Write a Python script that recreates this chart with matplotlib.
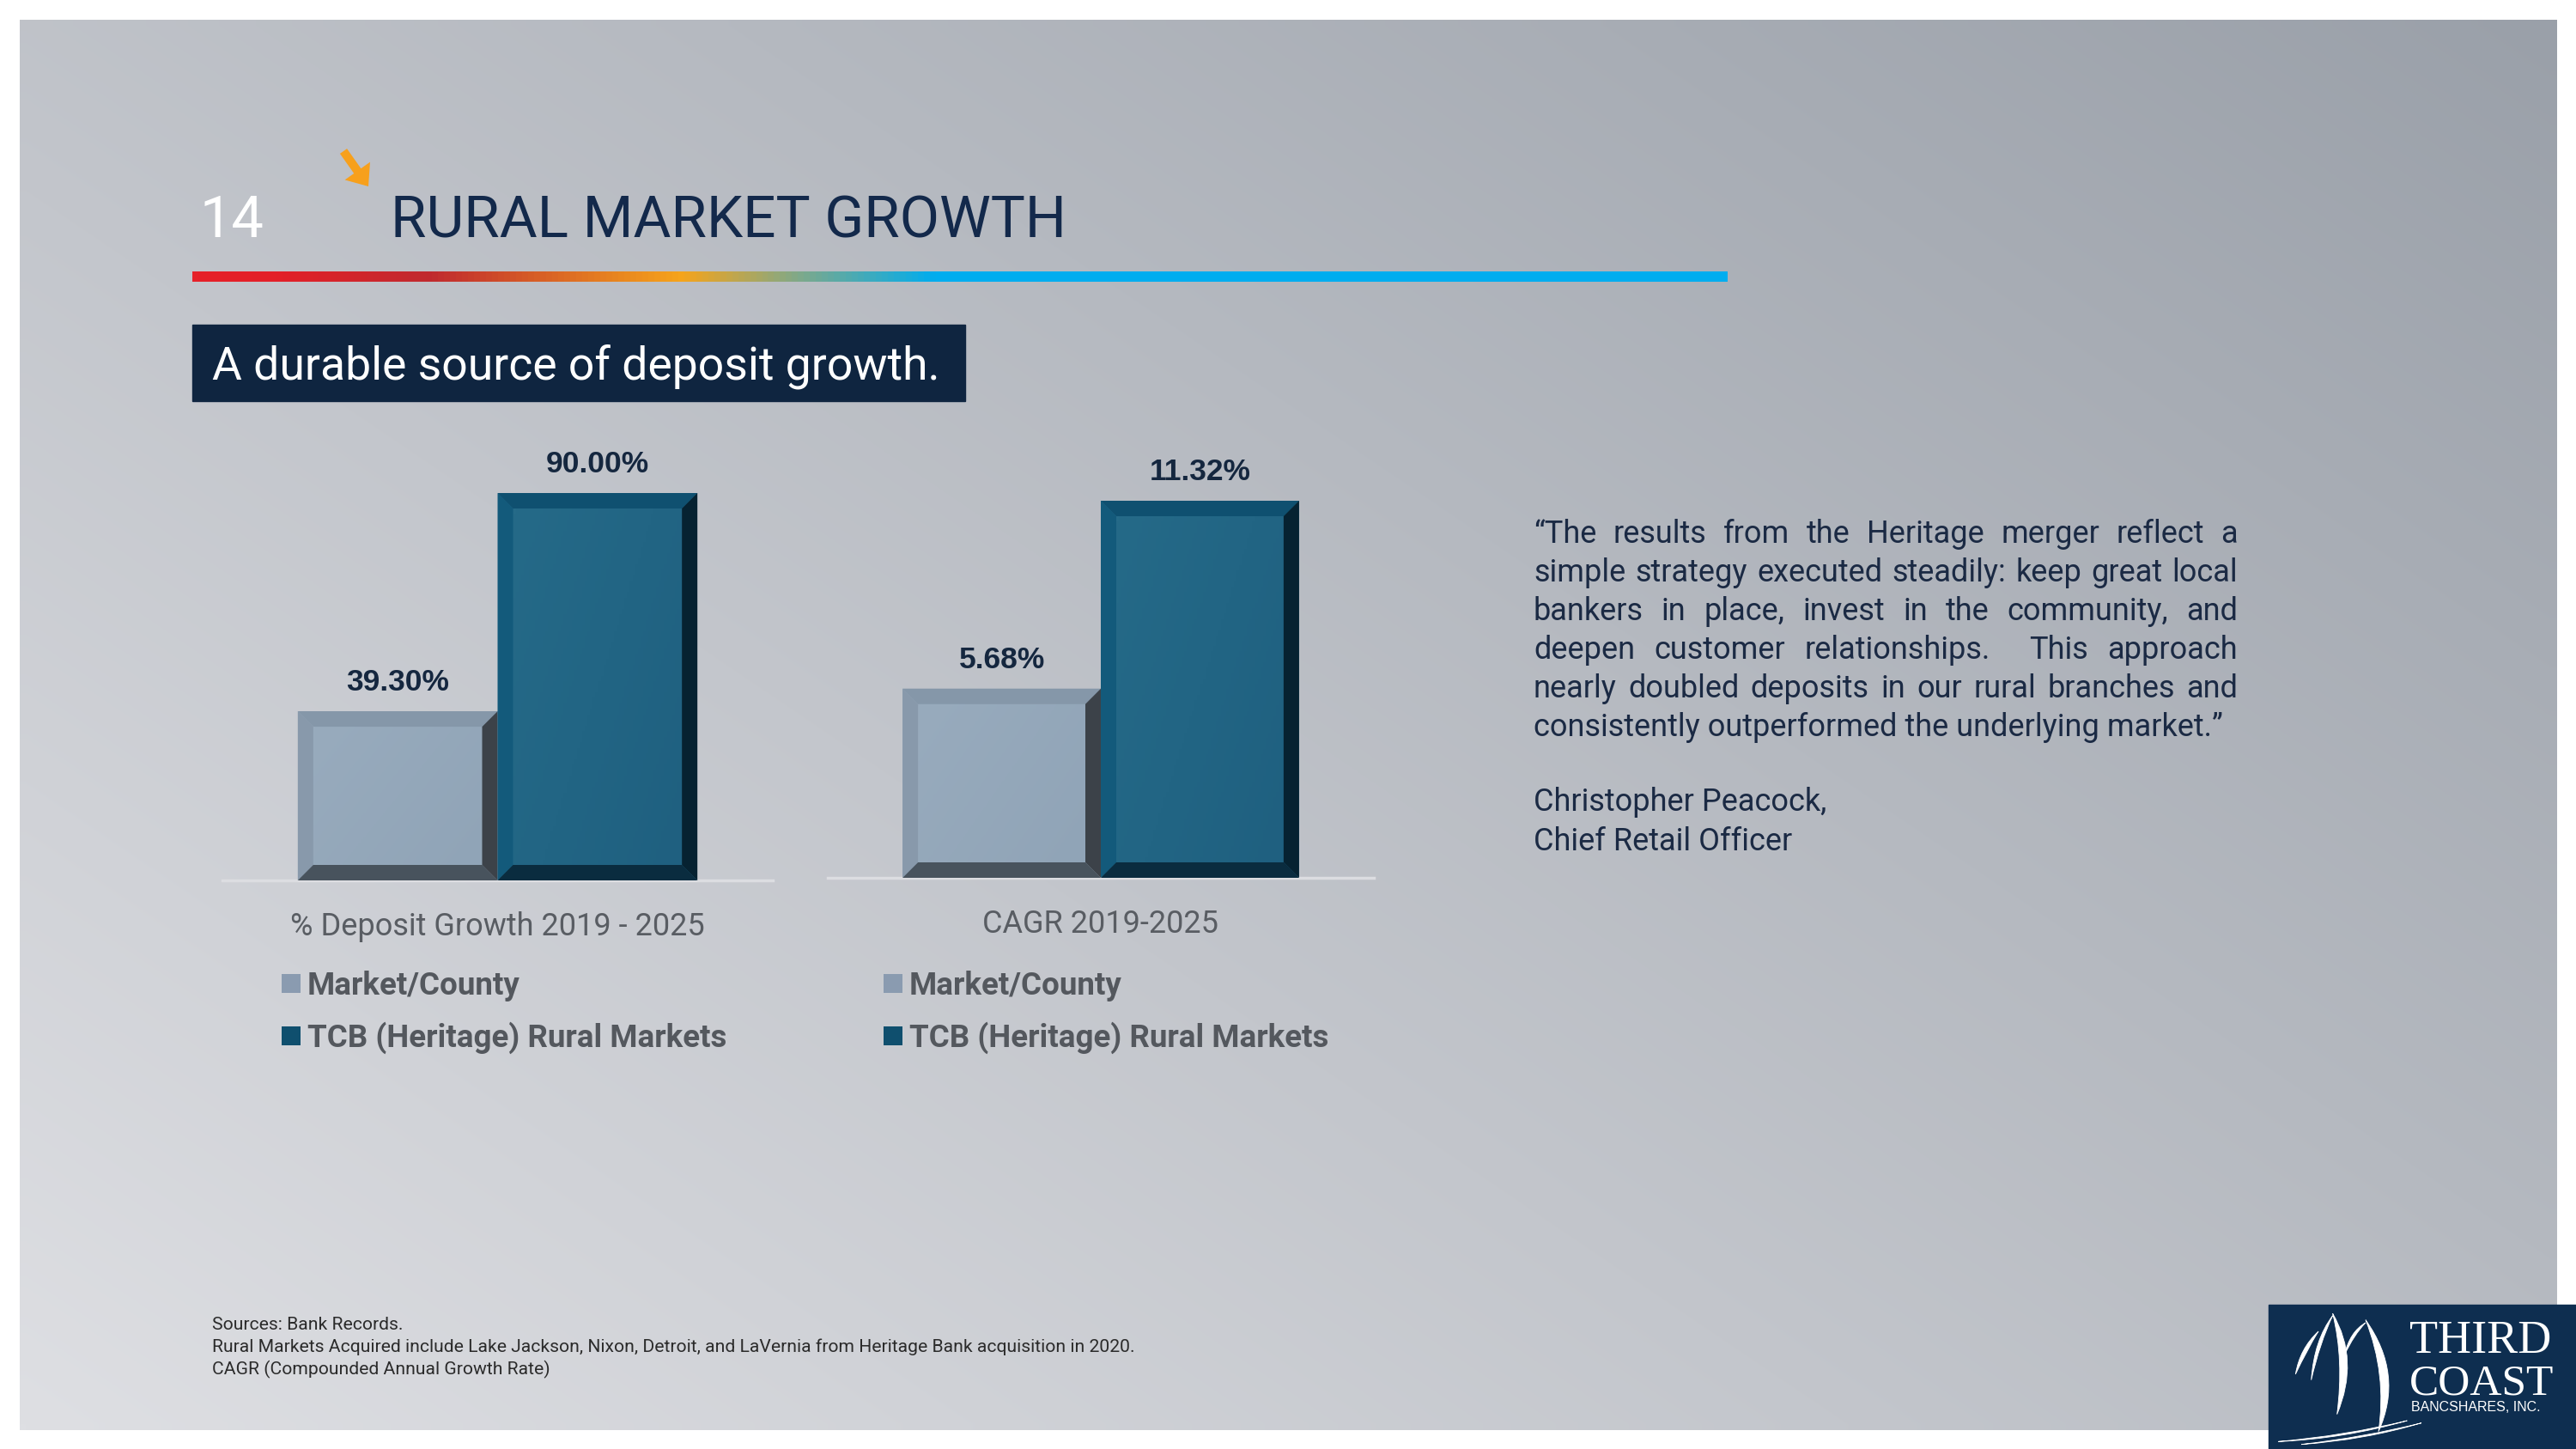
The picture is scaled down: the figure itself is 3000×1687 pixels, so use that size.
import numpy as np
import matplotlib.pyplot as plt
from matplotlib.colors import LinearSegmentedColormap, to_rgb
from matplotlib.patches import Rectangle, Polygon, FancyArrow, PathPatch
from matplotlib.path import Path
from matplotlib.lines import Line2D

W, H, DPI = 3000, 1687, 100

# chart data
groups = ['% Deposit Growth 2019 - 2025', 'CAGR 2019-2025']
series = ['Market/County', 'TCB (Heritage) Rural Markets']
market_vals = [39.30, 5.68]
tcb_vals = [90.00, 11.32]
y_max = [100, 13]

quote_lines = [
    '\u201cThe results from the Heritage merger reflect a',
    'simple strategy executed steadily: keep great local',
    'bankers in place, invest in the community, and',
    'deepen customer relationships.  This approach',
    'nearly doubled deposits in our rural branches and',
    'consistently outperformed the underlying market.\u201d',
]
signature = ['Christopher Peacock,', 'Chief Retail Officer']
footnotes = [
    'Sources: Bank Records.',
    'Rural Markets Acquired include Lake Jackson, Nixon, Detroit, and LaVernia from Heritage Bank acquisition in 2020.',
    'CAGR (Compounded Annual Growth Rate)',
]

BODY = 'Roboto'
NAVY = '#13294b'
plt.rcParams['font.family'] = [BODY, 'DejaVu Sans']

fig = plt.figure(figsize=(W / DPI, H / DPI), dpi=DPI)
fig.patch.set_facecolor('white')
bg = fig.add_axes([0, 0, 1, 1])
bg.axis('off')

# slide background gradient
c_light = np.array(to_rgb('#dedfe3'))
c_dark = np.array(to_rgb('#9aa0a9'))
xx, yy = np.meshgrid(np.linspace(0, 1, 200), np.linspace(0, 1, 120))
t = np.clip(0.55 * xx + 0.45 * (1 - yy), 0, 1)
img = c_light + (c_dark - c_light) * t[..., None]
bg.imshow(img, extent=(23, 2978, 1665, 23), aspect='auto', interpolation='bilinear', zorder=0)

# coloured rule under the title
stops = [(0, '#e62129'), (0.053, '#e32028'), (0.154, '#c02a2f'), (0.317, '#f6a41b'),
         (0.395, '#7fa98a'), (0.484, '#00adef'), (1, '#00adef')]
rule = LinearSegmentedColormap.from_list('rule', stops)
bg.imshow(np.linspace(0, 1, 512)[None, :], cmap=rule, extent=(224, 2012, 328, 316),
          aspect='auto', zorder=1)
bg.set_xlim(0, W)
bg.set_ylim(H, 0)

# title
bg.text(233, 276, '14', color='white', fontsize=48, va='baseline')
bg.text(455, 276, 'RURAL MARKET GROWTH', color=NAVY, fontsize=48.5, va='baseline')
bg.add_patch(FancyArrow(400, 176, 29, 41, width=10, head_width=36, head_length=22,
                        length_includes_head=True, color='#f7a01c', lw=0, zorder=2))

# subtitle box
bg.add_patch(Rectangle((224, 378), 900, 89, color='#0f2540', zorder=2))
bg.text(247, 441, 'A durable source of deposit growth.', color='white', fontsize=38.5,
        va='baseline', zorder=3)

# charts
light = dict(face='#98abbd', face2='#90a4b7', top='#8597a9', left='#8899ab',
             bottom='#48535d', right='#3c4249', legend='#8a9bb0')
dark = dict(face='#256a88', face2='#1f6080', top='#0f5070', left='#135a7b',
            bottom='#0a2c3f', right='#062231', legend='#0f4f6e')
styles = [light, dark]

ax_boxes = [(259, 900, 1025), (964, 1600, 1022)]
ppu = [451 / 90.0, 439 / 11.32]  # pixels per data unit
bevel = 18
xs = [0.5 - 0.1815, 0.5 + 0.1815]
bw = 0.363

for i, (l, r, b) in enumerate(ax_boxes):
    h_px = ppu[i] * y_max[i]
    ax = fig.add_axes([l / W, 1 - b / H, (r - l) / W, h_px / H])
    ax.patch.set_alpha(0)
    vals = [market_vals[i], tcb_vals[i]]
    bx = bevel / (r - l)
    by = bevel / ppu[i]
    for j, v in enumerate(vals):
        st = styles[j]
        cont = ax.bar(xs[j], v, width=bw, color=st['face'], zorder=2)
        p = cont.patches[0]
        x0, x1, h = p.get_x(), p.get_x() + p.get_width(), p.get_height()
        g = np.linspace(0, 1, 64)[None, :] * 0.6 + np.linspace(0, 1, 64)[:, None] * 0.4
        cm = LinearSegmentedColormap.from_list('f%d' % j, [st['face'], st['face2']])
        ax.imshow(g, cmap=cm, extent=(x0 + bx, x1 - bx, by, h - by), aspect='auto',
                  zorder=2.5)
        polys = [
            ([(x0, h), (x1, h), (x1 - bx, h - by), (x0 + bx, h - by)], st['top']),
            ([(x0, h), (x0 + bx, h - by), (x0 + bx, by), (x0, 0)], st['left']),
            ([(x0, 0), (x0 + bx, by), (x1 - bx, by), (x1, 0)], st['bottom']),
            ([(x1, h), (x1, 0), (x1 - bx, by), (x1 - bx, h - by)], st['right']),
        ]
        for pts, c in polys:
            ax.add_patch(Polygon(pts, closed=True, facecolor=c, edgecolor='none', zorder=3))
        ax.bar_label(cont, labels=['%.2f%%' % v], padding=12, fontsize=25.5,
                     fontweight='bold', family='Liberation Sans', color='#15273f')
    ax.set_xlim(0, 1)
    ax.set_ylim(0, y_max[i])
    ax.set_yticks([])
    ax.set_xticks([0.5], [groups[i]])
    ax.tick_params(axis='x', length=0, pad=26, labelsize=26, labelcolor='#595d63')
    for s in ['top', 'left', 'right']:
        ax.spines[s].set_visible(False)
    ax.spines['bottom'].set_color('#dcdde1')
    ax.spines['bottom'].set_linewidth(2.5)
    handles = [Line2D([], [], marker='s', ls='none', markersize=16, markeredgewidth=0,
                      markerfacecolor=st['legend']) for st in styles]
    ax_x = (324 - l) / (r - l) if i == 0 else (1025 - l) / (r - l)
    ax_y = -(1130 - b) / h_px
    ax.legend(handles, series, loc='upper left', bbox_to_anchor=(ax_x, ax_y), frameon=False,
              prop={'weight': 'bold', 'size': 26.5}, labelcolor='#54585e', handlelength=0.8,
              handletextpad=0.12, labelspacing=0.64, borderpad=0, borderaxespad=0)

# quote, justified between x0 and x1
renderer = fig.canvas.get_renderer()
qx0, qx1 = 1786, 2606
qkw = dict(fontsize=26, color='#1b2a44', va='baseline')
for k, line in enumerate(quote_lines):
    y = 632 + k * 45
    if k == len(quote_lines) - 1:
        bg.text(qx0, y, line, **qkw)
        continue
    words = line.split(' ')
    objs = [bg.text(0, y, w_, **qkw) for w_ in words]
    widths = [o.get_window_extent(renderer).width if w_ else 0 for o, w_ in zip(objs, words)]
    gap = (qx1 - qx0 - sum(widths)) / (len(words) - 1)
    x = qx0
    for o, w_ in zip(objs, widths):
        o.set_x(x)
        x += w_ + gap
for k, line in enumerate(signature):
    bg.text(qx0, 944 + k * 46, line, **qkw)

# footnotes
for k, line in enumerate(footnotes):
    bg.text(247, 1548 + k * 26, line, fontsize=15.2, color='#2b2b2b', va='baseline')

# logo
bg.add_patch(Rectangle((2642, 1519), 358, 168, color='#0e2e50', zorder=5, clip_on=False))
bg.text(2806, 1575, 'THIRD', family='Liberation Serif', fontsize=39, color='white',
        va='baseline', zorder=6)
bg.text(2806, 1623, 'COAST', family='Liberation Serif', fontsize=37, color='white',
        va='baseline', zorder=6)
bg.text(2808, 1643, 'BANCSHARES, INC.', family='Liberation Sans', fontsize=11.5,
        color='white', va='baseline', zorder=6)


def z(px, py):
    return (2620 + px / 3.0, 1500 + py / 3.0)


def crescent(top, c_out, c_in, bot):
    verts = [z(*top), z(*c_out), z(*bot), z(*c_in), z(*top)]
    codes = [Path.MOVETO, Path.CURVE3, Path.CURVE3, Path.CURVE3, Path.CURVE3]
    bg.add_patch(PathPatch(Path(verts, codes), facecolor='white', edgecolor='white',
                           lw=0.6, zorder=6))


crescent((290, 88), (385, 250), (330, 250), (305, 440))
crescent((405, 110), (540, 300), (480, 300), (450, 500))
crescent((240, 150), (175, 210), (200, 215), (160, 300))
crescent((290, 95), (225, 180), (245, 190), (215, 320))
crescent((405, 120), (350, 150), (365, 160), (330, 235))
crescent((100, 535), (330, 515), (330, 525), (550, 462))
crescent((180, 545), (400, 520), (400, 530), (600, 470))

bg.set_xlim(0, W)
bg.set_ylim(H, 0)
fig.savefig('out.png', dpi=DPI, facecolor='white')
